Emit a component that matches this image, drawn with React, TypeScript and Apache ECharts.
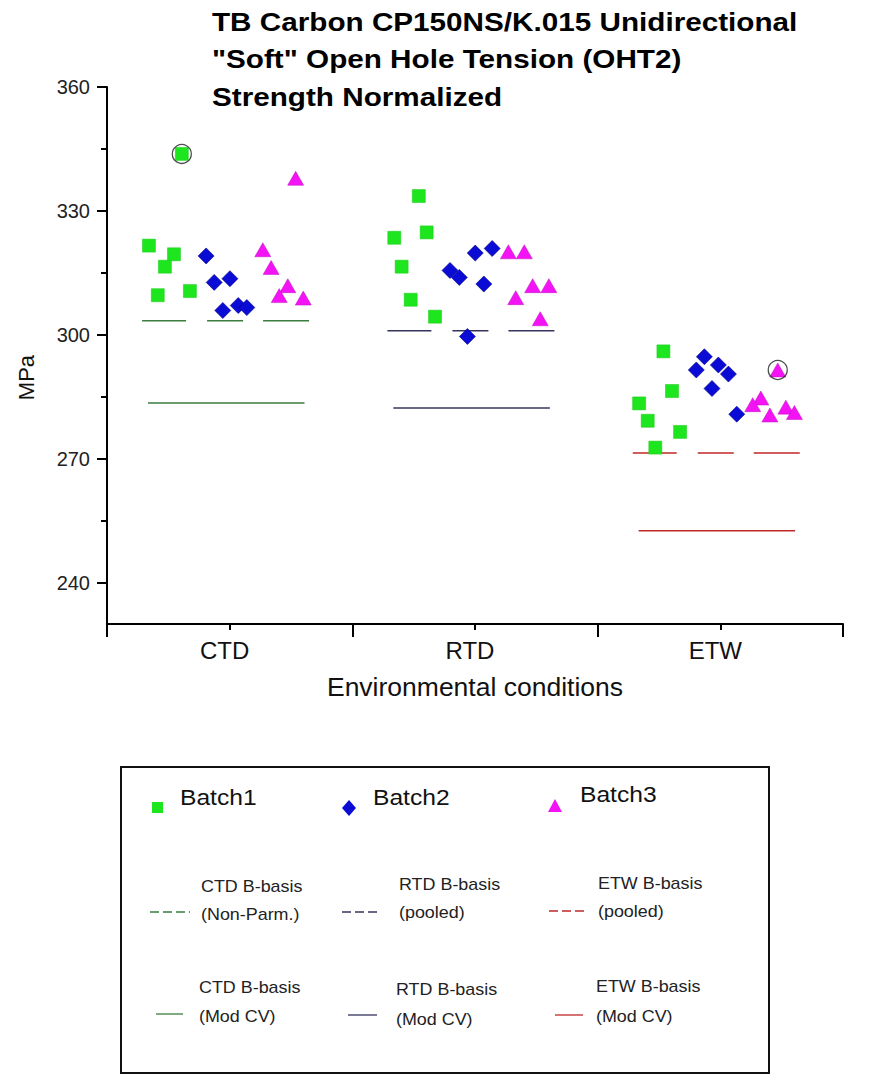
import React, { useEffect, useRef } from 'react';
import * as echarts from 'echarts';

const categories = ['CTD', 'RTD', 'ETW'];
const yMajorTicks = [240, 270, 300, 330, 360];
const yMinorTicks = [255, 285, 315, 345];

// [position across the three conditions (0..3), strength MPa]
const batch1 = [
  [0.171, 321.6], [0.273, 319.5], [0.236, 316.5], [0.207, 309.6], [0.338, 310.6], [0.305, 343.8],
  [1.271, 333.6], [1.171, 323.5], [1.303, 324.8], [1.201, 316.5], [1.238, 308.5], [1.337, 304.4],
  [2.268, 296.0], [2.303, 286.4], [2.169, 283.4], [2.204, 279.2], [2.336, 276.5], [2.235, 272.7],
];
const batch2 = [
  [0.404, 319.1], [0.437, 312.7], [0.501, 313.6], [0.472, 305.9], [0.535, 307.1], [0.570, 306.6],
  [1.501, 319.8], [1.570, 320.9], [1.398, 315.6], [1.436, 313.9], [1.536, 312.3], [1.469, 299.6],
  [2.435, 294.7], [2.402, 291.5], [2.492, 292.7], [2.533, 290.5], [2.466, 287.0], [2.567, 280.8],
];
const batch3 = [
  [0.769, 337.9], [0.635, 320.6], [0.669, 316.3], [0.737, 311.9], [0.702, 309.5], [0.800, 308.9],
  [1.636, 320.1], [1.701, 320.1], [1.735, 311.9], [1.801, 311.9], [1.666, 309.0], [1.766, 303.9],
  [2.734, 291.5], [2.665, 284.7], [2.632, 283.1], [2.702, 280.6], [2.767, 282.5], [2.802, 281.2],
];
const outliers = [[0.305, 343.8], [2.734, 291.5]];
const bBasisPooled = [303.4, 301.0, 271.4];
const bBasisModCV = [283.5, 282.3, 252.6];

const lineColors = ['#3a7c3e', '#34345e', '#c02828'];
const FONT = '"Liberation Sans", Arial, Helvetica, sans-serif';
const SX = 1.12;

function txt(text: string, x: number, y: number, size: number, bold = false, color = '#111') {
  return {
    type: 'text', x, y, scaleX: SX,
    style: {
      text, x: 0, y: 0, fill: color,
      font: `${bold ? 'bold ' : ''}${size}px ${FONT}`,
      verticalAlign: 'middle', align: 'left',
    },
  };
}
function seg(x1: number, x2: number, y: number, color: string, dashed: boolean) {
  return {
    type: 'line', shape: { x1, y1: y, x2, y2: y },
    style: { stroke: color, lineWidth: 1.3, lineDash: dashed ? [9, 4] : null },
  };
}

export default function App() {
  const ref = useRef<HTMLDivElement>(null);
  useEffect(() => {
    if (!ref.current) return;
    const chart = echarts.init(ref.current, null, { renderer: 'svg' });
    const lineSeries: any[] = [];
    categories.forEach((c, i) => {
      lineSeries.push({
        type: 'line', name: `${c} B-basis pooled`, xAxisIndex: 2, yAxisIndex: 0,
        data: [[i + 0.143, bBasisPooled[i]], [i + 0.826, bBasisPooled[i]]],
        symbol: 'none', silent: true, z: 1,
        lineStyle: { color: lineColors[i], width: 1.5, type: [44, 21, 36, 20, 46, 200] },
      });
      lineSeries.push({
        type: 'line', name: `${c} B-basis Mod CV`, xAxisIndex: 2, yAxisIndex: 0,
        data: [[i + 0.167, bBasisModCV[i]], [i + 0.805, bBasisModCV[i]]],
        symbol: 'none', silent: true, z: 1,
        lineStyle: { color: lineColors[i], width: 1.5, type: 'solid' },
      });
    });

    const option: any = {
      animation: false,
      backgroundColor: '#fff',
      textStyle: { fontFamily: FONT },
      grid: { left: 107, right: 46, top: 87, height: 537, containLabel: false },
      xAxis: [
        {
          type: 'category', data: categories, position: 'bottom', boundaryGap: true,
          name: 'Environmental conditions', nameLocation: 'middle', nameGap: 49,
          nameTextStyle: { fontSize: 26.5, color: '#111', fontFamily: FONT },
          axisLine: { show: true, lineStyle: { color: '#000', width: 2 } },
          axisTick: { show: true, length: 13, lineStyle: { color: '#000', width: 2 } },
          axisLabel: { fontSize: 24, color: '#111', margin: 14, fontFamily: FONT, padding: [0, 10, 0, 0] },
          splitLine: { show: false },
        },
        {
          type: 'category', data: categories, position: 'bottom', boundaryGap: true,
          axisLine: { show: false },
          axisTick: { show: true, alignWithLabel: true, length: 6, lineStyle: { color: '#000', width: 2 } },
          axisLabel: { show: false }, splitLine: { show: false },
        },
        { type: 'value', min: 0, max: 3, show: false },
      ],
      yAxis: [
        {
          type: 'value', min: 230, max: 360, position: 'left',
          name: 'MPa', nameLocation: 'middle', nameRotate: 90, nameGap: 70,
          nameTextStyle: { fontSize: 22, color: '#111', fontFamily: FONT, padding: [0, 44, 0, 0] },
          axisLine: { show: true, lineStyle: { color: '#000', width: 2 } },
          axisTick: { show: true, length: 10, lineStyle: { color: '#000', width: 2 }, customValues: yMajorTicks },
          axisLabel: { fontSize: 20, color: '#222', margin: 17, fontFamily: FONT, customValues: yMajorTicks },
          splitLine: { show: false },
        },
        {
          type: 'value', min: 230, max: 360, position: 'left',
          axisLine: { show: false },
          axisTick: { show: true, length: 6, lineStyle: { color: '#000', width: 2 }, customValues: yMinorTicks },
          axisLabel: { show: false }, splitLine: { show: false },
        },
      ],
      series: [
        ...lineSeries,
        {
          type: 'scatter', name: 'Batch1', xAxisIndex: 2, yAxisIndex: 0, data: batch1,
          symbol: 'rect', symbolSize: 13, z: 3,
          itemStyle: { color: '#1ee61e', borderColor: '#17c817', borderWidth: 0.5, opacity: 1 },
        },
        {
          type: 'scatter', name: 'Batch2', xAxisIndex: 2, yAxisIndex: 0, data: batch2,
          symbol: 'diamond', symbolSize: 16, z: 3,
          itemStyle: { color: '#0b0bd6', borderColor: '#000080', borderWidth: 0.6, opacity: 1 },
        },
        {
          type: 'scatter', name: 'Batch3', xAxisIndex: 2, yAxisIndex: 0, data: batch3,
          symbol: 'triangle', symbolSize: [16, 14], z: 3,
          itemStyle: { color: '#f413f4', borderColor: '#c010c0', borderWidth: 0.5, opacity: 1 },
        },
        {
          type: 'scatter', name: 'Outliers', xAxisIndex: 2, yAxisIndex: 0, data: outliers,
          symbol: 'circle', symbolSize: 19, z: 4, silent: true,
          itemStyle: { color: 'rgba(0,0,0,0)', borderColor: '#222', borderWidth: 1.3 },
        },
      ],
      graphic: [
        txt('TB Carbon CP150NS/K.015 Unidirectional', 212, 22, 26.5, true, '#000'),
        txt('"Soft" Open Hole Tension (OHT2)', 212, 59.5, 26.5, true, '#000'),
        txt('Strength Normalized', 212, 97, 26.5, true, '#000'),
        {
          type: 'rect', shape: { x: 121, y: 767, width: 648, height: 306 },
          style: { fill: 'none', stroke: '#111', lineWidth: 2 },
        },
        { type: 'rect', shape: { x: 152, y: 802, width: 11, height: 11 }, style: { fill: '#1ee61e' } },
        txt('Batch1', 180, 797, 22),
        { type: 'polygon', shape: { points: [[349, 800], [356, 808], [349, 816], [342, 808]] }, style: { fill: '#0b0bd6' } },
        txt('Batch2', 373, 797, 22),
        { type: 'polygon', shape: { points: [[555, 799], [562, 812], [548, 812]] }, style: { fill: '#f413f4' } },
        txt('Batch3', 580, 794, 22),

        seg(150, 190, 912, lineColors[0], true),
        txt('CTD B-basis', 201, 887, 16, false, '#222'),
        txt('(Non-Parm.)', 201, 915, 16, false, '#222'),
        seg(342, 380, 912, lineColors[1], true),
        txt('RTD B-basis', 399, 885, 16, false, '#222'),
        txt('(pooled)', 399, 913, 16, false, '#222'),
        seg(549, 588, 911, lineColors[2], true),
        txt('ETW B-basis', 598, 884, 16, false, '#222'),
        txt('(pooled)', 598, 912, 16, false, '#222'),

        seg(156, 183, 1014, lineColors[0], false),
        txt('CTD B-basis', 199, 988, 16, false, '#222'),
        txt('(Mod CV)', 199, 1017, 16, false, '#222'),
        seg(348, 377, 1015, lineColors[1], false),
        txt('RTD B-basis', 396, 990, 16, false, '#222'),
        txt('(Mod CV)', 396, 1020, 16, false, '#222'),
        seg(555, 583, 1015, lineColors[2], false),
        txt('ETW B-basis', 596, 987, 16, false, '#222'),
        txt('(Mod CV)', 596, 1017, 16, false, '#222'),
      ],
    };
    chart.setOption(option);
    return () => chart.dispose();
  }, []);
  return (
    <div
      ref={ref}
      style={{ position: 'fixed', left: 0, top: 0, width: 889, height: 1089, background: '#fff' }}
    />
  );
}
